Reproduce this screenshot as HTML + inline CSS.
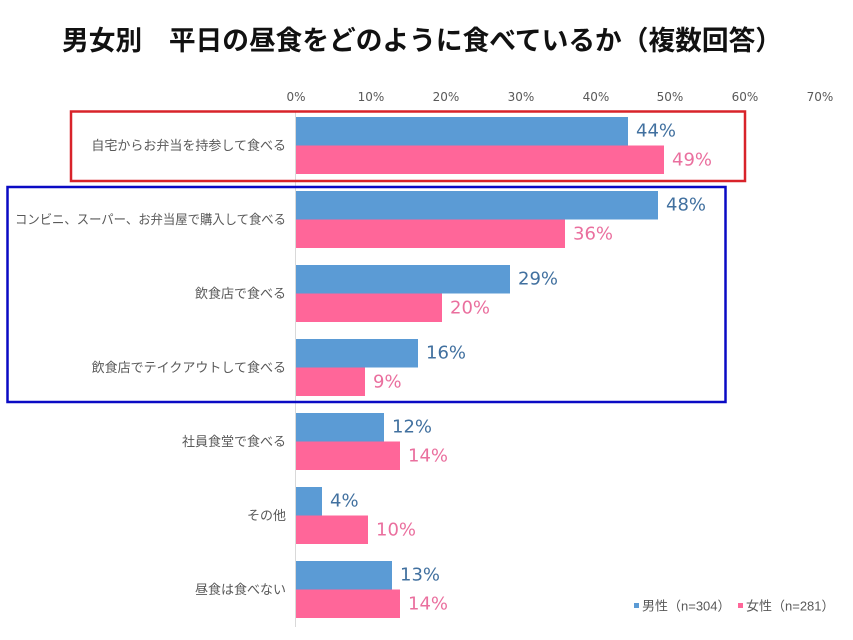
<!DOCTYPE html>
<html><head><meta charset="utf-8"><style>
html,body{margin:0;padding:0;background:#fff;}
svg{display:block;}
.cat{font-family:"Liberation Sans","Noto Sans CJK JP",sans-serif;font-size:13px;fill:#595959;}
.tick{font-family:"DejaVu Sans",sans-serif;font-size:12px;fill:#595959;}
.vm{font-family:"DejaVu Sans",sans-serif;font-size:18px;fill:#41709F;}
.vf{font-family:"DejaVu Sans",sans-serif;font-size:18px;fill:#EA6F9E;}
.leg{font-family:"Liberation Sans","Noto Sans CJK JP",sans-serif;font-size:13px;fill:#595959;}
</style></head><body>
<svg width="853" height="640" viewBox="0 0 853 640" xmlns="http://www.w3.org/2000/svg">
<rect width="853" height="640" fill="#fff"/>
<text x="62" y="41" dominant-baseline="central" textLength="720" lengthAdjust="spacingAndGlyphs" style="font-family:'Liberation Sans','Noto Sans CJK JP',sans-serif;font-size:27px;font-weight:bold;fill:#111;">男女別　平日の昼食をどのように食べているか（複数回答）</text>

<!-- ticks -->
<g class="tick" text-anchor="middle">
<text x="296" y="97" dominant-baseline="central">0%</text>
<text x="371" y="97" dominant-baseline="central">10%</text>
<text x="446" y="97" dominant-baseline="central">20%</text>
<text x="521" y="97" dominant-baseline="central">30%</text>
<text x="596" y="97" dominant-baseline="central">40%</text>
<text x="670" y="97" dominant-baseline="central">50%</text>
<text x="745" y="97" dominant-baseline="central">60%</text>
<text x="820" y="97" dominant-baseline="central">70%</text>
</g>

<line x1="295.5" y1="111" x2="295.5" y2="627" stroke="#D9D9D9" stroke-width="1"/>

<!-- bars -->
<g fill="#5B9BD5">
<rect x="296" y="117" width="332" height="28.5"/>
<rect x="296" y="191" width="362" height="28.5"/>
<rect x="296" y="265" width="214" height="28.5"/>
<rect x="296" y="339" width="122" height="28.5"/>
<rect x="296" y="413" width="88" height="28.5"/>
<rect x="296" y="487" width="26" height="28.5"/>
<rect x="296" y="561" width="96" height="28.5"/>
</g>
<g fill="#FF6699">
<rect x="296" y="145.5" width="368" height="28.5"/>
<rect x="296" y="219.5" width="269" height="28.5"/>
<rect x="296" y="293.5" width="146" height="28.5"/>
<rect x="296" y="367.5" width="69" height="28.5"/>
<rect x="296" y="441.5" width="104" height="28.5"/>
<rect x="296" y="515.5" width="72" height="28.5"/>
<rect x="296" y="589.5" width="104" height="28.5"/>
</g>

<!-- value labels -->
<g class="vm">
<text x="636" y="131" dominant-baseline="central">44%</text>
<text x="666" y="205" dominant-baseline="central">48%</text>
<text x="518" y="279" dominant-baseline="central">29%</text>
<text x="426" y="353" dominant-baseline="central">16%</text>
<text x="392" y="427" dominant-baseline="central">12%</text>
<text x="330" y="501" dominant-baseline="central">4%</text>
<text x="400" y="575" dominant-baseline="central">13%</text>
</g>
<g class="vf">
<text x="672" y="160" dominant-baseline="central">49%</text>
<text x="573" y="234" dominant-baseline="central">36%</text>
<text x="450" y="308" dominant-baseline="central">20%</text>
<text x="373" y="382" dominant-baseline="central">9%</text>
<text x="408" y="456" dominant-baseline="central">14%</text>
<text x="376" y="530" dominant-baseline="central">10%</text>
<text x="408" y="604" dominant-baseline="central">14%</text>
</g>

<!-- category labels -->
<g class="cat" text-anchor="end">
<text x="286" y="145.5" dominant-baseline="central">自宅からお弁当を持参して食べる</text>
<text x="286" y="219.5" dominant-baseline="central" textLength="271" lengthAdjust="spacingAndGlyphs">コンビニ、スーパー、お弁当屋で購入して食べる</text>
<text x="286" y="293.5" dominant-baseline="central">飲食店で食べる</text>
<text x="286" y="367.5" dominant-baseline="central">飲食店でテイクアウトして食べる</text>
<text x="286" y="441.5" dominant-baseline="central">社員食堂で食べる</text>
<text x="286" y="515.5" dominant-baseline="central">その他</text>
<text x="286" y="589.5" dominant-baseline="central">昼食は食べない</text>
</g>

<!-- highlight boxes -->
<rect x="71" y="111.5" width="674" height="69.5" fill="none" stroke="#D8232A" stroke-width="2.5"/>
<rect x="7.5" y="187" width="718" height="215" fill="none" stroke="#0A0AC4" stroke-width="2.5"/>

<!-- legend -->
<rect x="634" y="603" width="5" height="5" fill="#5B9BD5"/>
<text class="leg" x="642" y="606" dominant-baseline="central">男性（n=304）</text>
<rect x="738" y="603" width="5" height="5" fill="#FF6699"/>
<text class="leg" x="746" y="606" dominant-baseline="central">女性（n=281）</text>
</svg>
</body></html>
